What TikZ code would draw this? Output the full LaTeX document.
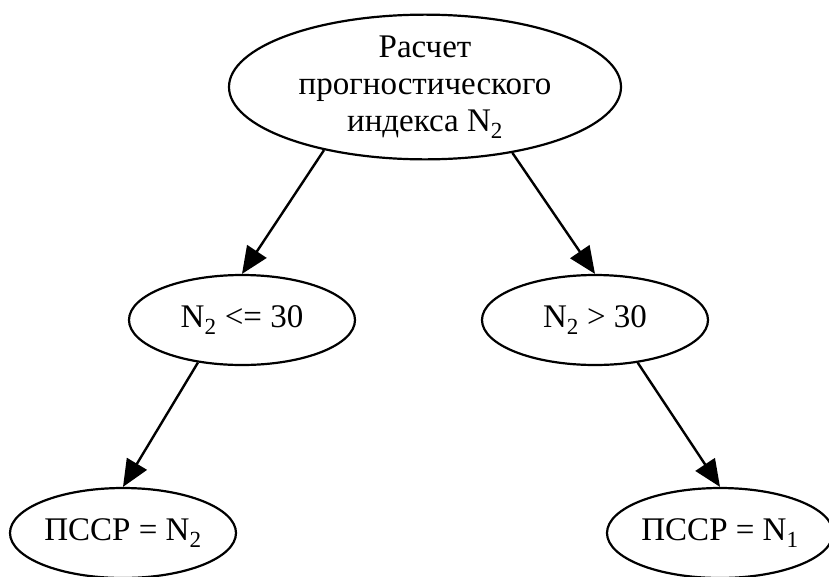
\documentclass[tikz,border=0pt]{standalone}
\usepackage{fontspec}
\setmainfont{Liberation Serif}
\usetikzlibrary{arrows.meta,shapes.geometric}

\begin{document}
\begin{tikzpicture}[x=1pt,y=-1pt,
            oval/.style={draw,ellipse,line width=2.2pt,inner sep=0pt,align=center,
              font=\fontsize{33}{37}\selectfont},
            bigoval/.style={oval,minimum width=392pt,minimum height=143pt},
            smalloval/.style={oval,minimum width=226pt,minimum height=90pt},
            link/.style={draw,line width=2.4pt,-{Triangle[length=27pt,width=23pt]}}
          ]
          \useasboundingbox (0,0) rectangle (829,576);

          \node[bigoval] (calc) at (425,87) {Расчет\\прогностического\\индекса N\textsubscript{2}};

          %conditions
          \node[smalloval] (le) at (242,320) {N\textsubscript{2} <= 30};
          \node[smalloval] (gt) at (595,320) {N\textsubscript{2} > 30};

          %results
          \node[smalloval] (resa) at (123,533) {ПССР = N\textsubscript{2}};
          \node[smalloval] (resb) at (720,533) {ПССР = N\textsubscript{1}};

          \path[link] (calc.212) -- (le.north);
          \path[link] (calc.323) -- (gt.north);
          \path[link] (le.224) -- (resa.north);
          \path[link] (gt.315) -- (resb.north);
      \end{tikzpicture}
\end{document}
